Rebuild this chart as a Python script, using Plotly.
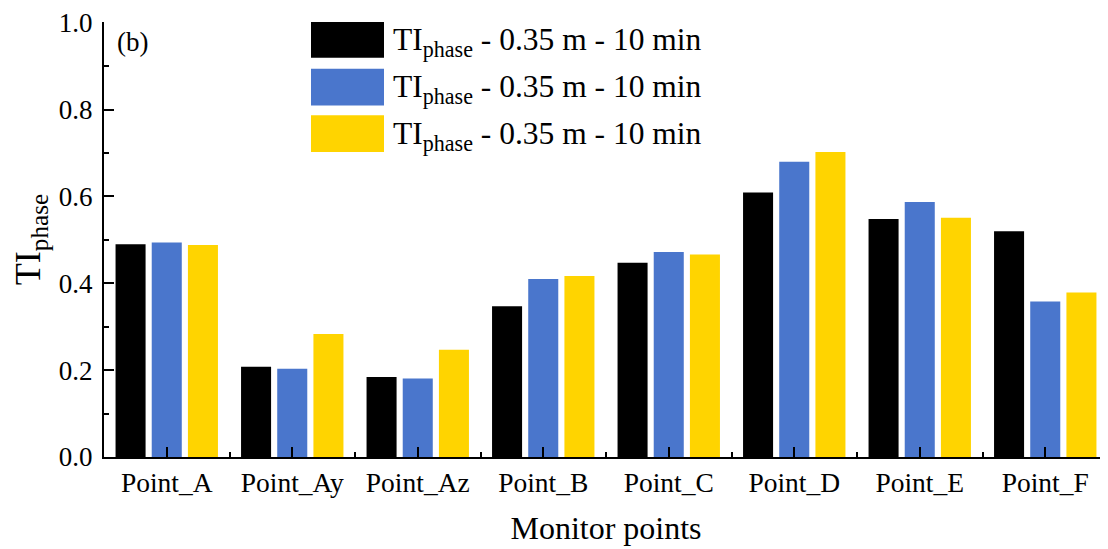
import plotly.graph_objects as go

categories = ["Point_A", "Point_Ay", "Point_Az", "Point_B", "Point_C", "Point_D", "Point_E", "Point_F"]
series_names = ["TI<sub>phase</sub> - 0.35 m - 10 min",
                "TI<sub>phase</sub> - 0.35 m - 10 min",
                "TI<sub>phase</sub> - 0.35 m - 10 min"]
series1 = [0.490, 0.208, 0.184, 0.347, 0.447, 0.609, 0.548, 0.520]
series2 = [0.494, 0.203, 0.181, 0.410, 0.472, 0.680, 0.587, 0.358]
series3 = [0.488, 0.283, 0.247, 0.417, 0.466, 0.702, 0.551, 0.379]
colors = ["#000000", "#4A76CC", "#FFD400"]
y_ticks = [0.0, 0.2, 0.4, 0.6, 0.8, 1.0]

# page body adds an 8px offset; figure spans 8..1108 x 8..549
OFF = 8
W, H = 1108 - OFF, 549 - OFF
L, R, T, B = 104 - OFF, 0, 19 - OFF, 92
FONT = "Liberation Serif"

fig = go.Figure()
xs = list(range(len(categories)))
for name, vals, col in zip(series_names, [series1, series2, series3], colors):
    fig.add_trace(go.Bar(x=xs, y=vals, name=name, marker=dict(color=col, line=dict(width=0)),
                         showlegend=False))

pw = W - L - R
ph = H - T - B
def px(xp):  # screen pixel -> paper x
    return (xp - OFF - L) / pw
def py(yp):  # screen pixel -> paper y
    return (H - B - (yp - OFF)) / ph

rows = [(19, 55), (66, 103), (113, 150)]
shapes = []
annotations = []
for (y0, y1), name, col in zip(rows, series_names, colors):
    shapes.append(dict(type="rect", xref="paper", yref="paper",
                       x0=px(311), x1=px(384), y0=py(y1), y1=py(y0),
                       fillcolor=col, line=dict(width=0)))
    annotations.append(dict(xref="paper", yref="paper", x=px(391), y=py((y0 + y1) / 2 + 2),
                            xanchor="left", yanchor="middle", showarrow=False,
                            text=name, font=dict(family=FONT, size=31.5, color="black")))
annotations.append(dict(xref="paper", yref="paper", x=px(115), y=py(39),
                        xanchor="left", yanchor="middle", showarrow=False,
                        text="(b)", font=dict(family=FONT, size=27, color="black")))

fig.update_layout(
    width=W, height=H,
    margin=dict(l=L, r=R, t=T, b=B, pad=0),
    paper_bgcolor="white", plot_bgcolor="white",
    barmode="group", bargap=0.135, bargroupgap=0.17,
    font=dict(family=FONT, size=27, color="black"),
    shapes=shapes, annotations=annotations,
    xaxis=dict(
        range=[-0.5, 7.5], tickvals=xs, ticktext=categories,
        showline=True, linecolor="black", linewidth=2,
        ticks="inside", ticklen=10, tickwidth=2, tickcolor="black",
        minor=dict(tickmode="linear", tick0=0.5, dtick=1, ticks="inside", ticklen=5,
                   tickwidth=2, tickcolor="black"),
        showgrid=False, zeroline=False,
        tickfont=dict(family=FONT, size=27.5, color="black"),
        title=dict(text="Monitor points", font=dict(family=FONT, size=32, color="black"), standoff=20),
    ),
    yaxis=dict(
        range=[0, 1.0015], tickvals=y_ticks, tickformat=".1f",
        showline=True, linecolor="black", linewidth=2,
        ticks="inside", ticklen=10, tickwidth=2, tickcolor="black",
        minor=dict(tickmode="linear", tick0=0.1, dtick=0.2, ticks="inside", ticklen=5,
                   tickwidth=2, tickcolor="black"),
        showgrid=False, zeroline=False, ticklabeloverflow="allow", ticklabelstandoff=4,
        tickfont=dict(family=FONT, size=27, color="black"),
        title=dict(text="TI<sub>phase</sub>", font=dict(family=FONT, size=36, color="black"), standoff=12),
    ),
)

fig.write_html("out.html")
